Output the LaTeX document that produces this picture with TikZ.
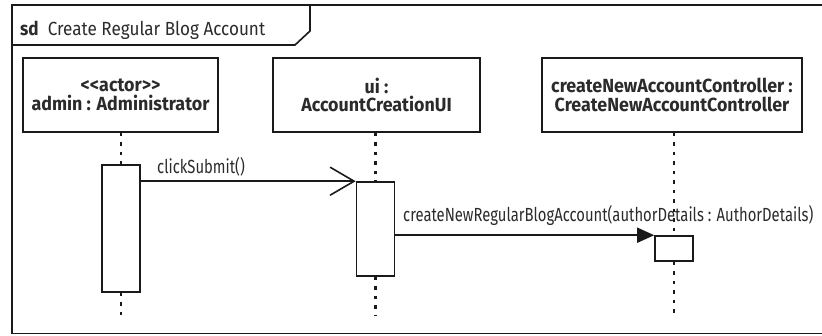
\documentclass[tikz,border=0pt]{standalone}
\usepackage{fontspec}
\setmainfont{Fira Sans}[FakeStretch=0.78,BoldFeatures={FakeStretch=0.94}]
\newfontfamily\titlefont{Fira Sans}[FakeStretch=0.9]
\usetikzlibrary{arrows.meta,positioning}
\definecolor{SeqLine}{HTML}{1A1A1A}
\definecolor{SeqText}{HTML}{2B2B2B}
\begin{document}
\begin{tikzpicture}[x=1pt,y=-1pt,line join=miter]
    \tikzset{head/.style={draw=SeqLine,line width=1.8pt,minimum height=74pt,align=center,
      font=\fontsize{19}{18.5}\selectfont\bfseries,text=SeqText,inner sep=2pt},
      act/.style={draw=SeqLine,line width=1.6pt,fill=white,minimum width=38pt,inner sep=0pt},
      life/.style={SeqLine,line width=2.6pt,dash pattern=on 3.5pt off 6pt},
      msg/.style={font=\fontsize{19}{21}\selectfont,text=SeqText,inner sep=0pt,anchor=base west}}
    \useasboundingbox (0,0) rectangle (822,335);
    % frame and title tab
    \draw[SeqLine,line width=1.8pt] (12,5) rectangle (840,333.5);
    \draw[SeqLine,line width=1.6pt] (12,45) -- (295,45) -- (310,31) -- (310,5);
    \node[msg,font=\fontsize{19}{21}\titlefont] (title) at (20,35) {\textbf{sd}\ \ Create Regular Blog Account};
    % lifeline heads
    \node[head,minimum width=195pt] (admin) at (120.5,95) {<\kern0pt<actor>\kern0pt>\\admin : Administrator};
    \node[head,minimum width=207pt] (ui) at (376.5,95) {ui :\\AccountCreationUI};
    \node[head,minimum width=260pt] (ctrl) at (672,95) {createNewAccountController :\\CreateNewAccountController};
    % activations
    \node[act,minimum height=127pt] (a1) at (121,228.5) {};
    \node[act,minimum height=94pt] (a2) at (375.5,229) {};
    \node[act,minimum height=25pt] (a3) at (674,248.5) {};
    \coordinate (e1) at (121,315);
    \coordinate (e2) at (375.5,315);
    \coordinate (e3) at (674,315);
    % lifelines
    \draw[life] (admin.south -| a1) -- (a1.north);
    \draw[life] (a1.south) -- (e1);
    \draw[life] (ui.south -| a2) -- (a2.north);
    \draw[life] (a2.south) -- (e2);
    \draw[life] (ctrl.south -| a3) -- (a3.north);
    \draw[life] (a3.south) -- (e3);
    % messages
    \draw[SeqLine,line width=1.6pt,-{Straight Barb[length=24pt,width=28pt,line width=1.6pt]}]
      (a1.east |- a2.north) -- (a2.north west);
    \node[msg] (m1) at (157,173) {clickSubmit()};
    \draw[SeqLine,line width=1.6pt,-{Triangle[length=17pt,width=15pt]}]
      (a2.east |- a3.north) -- (a3.north west);
    \node[msg] (m2) at (403,221) {createNewRegularBlogAccount(authorDetails : AuthorDetails)};
  \end{tikzpicture}
\end{document}
